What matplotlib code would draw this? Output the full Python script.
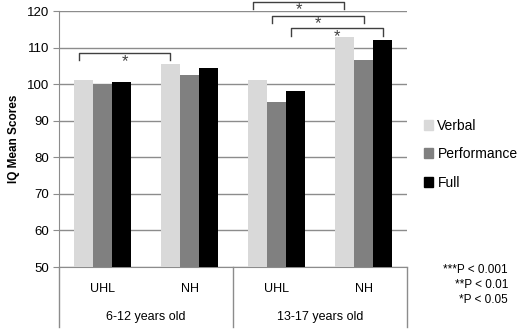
import matplotlib.pyplot as plt
import numpy as np
from matplotlib.patches import Patch

plt.rcParams['font.family'] = ['Liberation Sans', 'DejaVu Sans']

groups = ['UHL', 'NH', 'UHL', 'NH']
ages = ['6-12 years old', '13-17 years old']
series = ['Verbal', 'Performance', 'Full']
verbal = [101.0, 105.5, 101.0, 113.0]
performance = [100.0, 102.5, 95.0, 106.7]
full = [100.7, 104.5, 98.0, 112.0]
colors = ['#d9d9d9', '#808080', '#000000']
# brackets: (series index, left category, right category, height)
brackets = [(0, 0, 1, 108.5), (0, 2, 3, 122.5), (1, 2, 3, 118.7), (2, 2, 3, 115.3)]
pvals = ['***P < 0.001', '**P < 0.01', '*P < 0.05']

fig = plt.figure(figsize=(5.2, 3.3), dpi=100)
ax = fig.add_axes([59 / 520, 63 / 330, 348 / 520, 256 / 330])

x = np.arange(len(groups))
w = 0.22
for k, vals in enumerate([verbal, performance, full]):
    ax.bar(x + (k - 1) * w, np.array(vals) - 50, w, bottom=50, color=colors[k],
           zorder=3, label=series[k])

ax.set_xlim(-0.5, 3.5)
ax.set_ylim(50, 120)
ax.set_yticks(range(50, 121, 10))
ax.yaxis.grid(True, color='#8c8c8c', linewidth=1)
ax.set_axisbelow(True)
for s in ['top', 'right']:
    ax.spines[s].set_visible(False)
for s in ['left', 'bottom']:
    ax.spines[s].set_color('#8c8c8c')
ax.tick_params(axis='y', length=4, color='#8c8c8c', labelsize=9.5, pad=3)
ax.set_xticks([])
ax.set_ylabel('IQ Mean Scores', fontsize=8.5, fontweight='bold', labelpad=5)

# category axis labels and separators
tr = ax.get_xaxis_transform()
for i, g in enumerate(groups):
    ax.text(i, -0.085, g, transform=tr, ha='center', va='center', fontsize=9)
for j, a in enumerate(ages):
    ax.text(2 * j + 0.5, -0.195, a, transform=tr, ha='center', va='center', fontsize=9)
for xs in [-0.5, 1.5, 3.5]:
    ax.plot([xs, xs], [0, -0.235], transform=tr, color='#8c8c8c', lw=1, clip_on=False)

# significance brackets
for k, i, j, h in brackets:
    x0 = i + (k - 1) * w - 0.05
    x1 = j + (k - 1) * w
    ax.plot([x0, x0, x1, x1], [h - 2, h, h, h - 2], color='#404040', lw=1, clip_on=False)
    ax.text((x0 + x1) / 2, h - 0.2, '*', ha='center', va='top', fontsize=12, color='#404040')

handles = [Patch(color=c) for c in colors]
fig.legend(handles, series, loc='upper left', bbox_to_anchor=(411 / 520, 1 - 106 / 330),
           frameon=False, fontsize=10, handlelength=0.7, handleheight=0.7,
           handletextpad=0.3, labelspacing=1.05)

for n, t in enumerate(pvals):
    fig.text(508 / 520, 1 - (270 + n * 15) / 330, t, ha='right', va='center', fontsize=8.5)

fig.savefig('out.png', dpi=100)
